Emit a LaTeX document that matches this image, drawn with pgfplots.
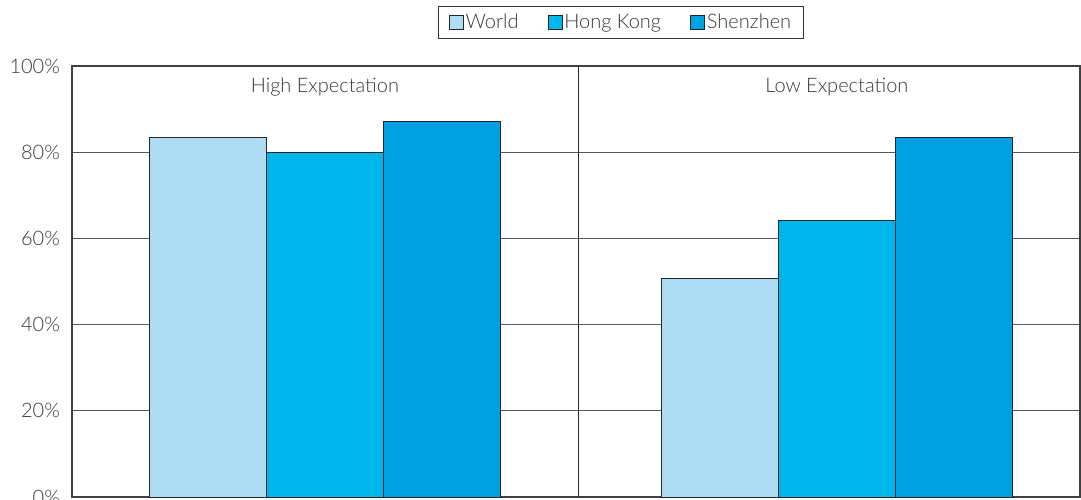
\documentclass[border=0pt]{standalone}
\usepackage{fontspec}
\setmainfont{Lato}[UprightFont={* Light},ItalicFont={* Light Italic},BoldFont={*}]
\usepackage{pgfplots}
\pgfplotsset{compat=1.18}
\definecolor{cWorld}{HTML}{ADDCF4}
\definecolor{cHK}{HTML}{00B5EA}
\definecolor{cSZ}{HTML}{00A0E3}
\definecolor{txt}{HTML}{383838}
\begin{document}
\begin{tikzpicture}
\begin{axis}[
  at={(0,0)}, anchor=south west,
  scale only axis, width=504pt, height=215.5pt,
  xmin=-0.494, xmax=1.475, ymin=0, ymax=100,
  xtick=\empty,
  ytick={0,20,40,60,80,100},
  yticklabels={0\%,20\%,40\%,60\%,80\%,100\%},
  tick style={draw=none},
  ymajorgrids, grid style={draw=black!65, line width=0.6pt},
  axis line style={draw=black!75, line width=0.6pt},
  yticklabel style={font=\fontsize{10}{11}\selectfont, text=txt, xshift=-2.5pt},
  ybar=0pt, bar width=0.2285,
  legend columns=3,
  legend style={at={(0.5446,1.1009)}, anchor=center, draw=black!80, line width=0.5pt,
    font=\fontsize{10}{11}\selectfont, text=txt,
    inner xsep=5pt, inner ysep=2.5pt,
    nodes={inner sep=1pt},
    /tikz/every even column/.append style={column sep=13.5pt}},
  legend image code/.code={\draw[#1, line width=0.4pt] (0pt,-3.5pt) rectangle (7pt,3.5pt);},
]
\addplot[fill=cWorld, draw=black!85, line width=0.5pt, bar shift=-0.2285] coordinates {(0,83.4) (1,50.7)};
\addplot[fill=cHK, draw=black!85, line width=0.5pt, bar shift=0] coordinates {(0,80.0) (1,64.2)};
\addplot[fill=cSZ, draw=black!85, line width=0.5pt, bar shift=0.2285] coordinates {(0,87.1) (1,83.4)};
\legend{World,Hong Kong,Shenzhen}
\draw[black!85, line width=0.6pt] (axis cs:0.496,0) -- (axis cs:0.496,100);
\node[font=\fontsize{10}{11}\selectfont, text=txt] at (axis cs:0,95.0) {High Expectation};
\node[font=\fontsize{10}{11}\selectfont, text=txt] at (axis cs:1,95.0) {Low Expectation};
\end{axis}
\pgfresetboundingbox
\path (-36pt,-1pt) rectangle (504.5pt,248.5pt);
\end{tikzpicture}
\end{document}
